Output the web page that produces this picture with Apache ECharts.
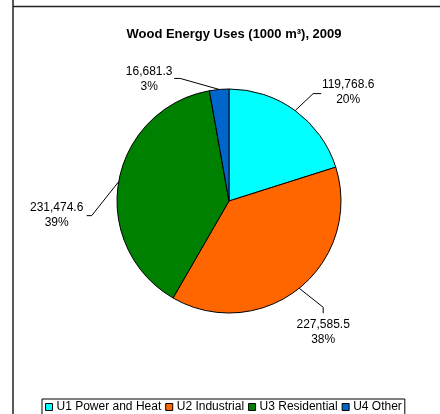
<!DOCTYPE html>
<html>
<head>
<meta charset="utf-8">
<script src="https://cdn.jsdelivr.net/npm/echarts@6/dist/echarts.min.js"></script>
<style>
html,body{margin:0;padding:0;background:#fff;}
#chart{width:440px;height:414px;}
</style>
</head>
<body>
<div id="chart"></div>
<script>
var categories = ['U1 Power and Heat', 'U2 Industrial', 'U3 Residential', 'U4 Other'];
var values = [119768.6, 227585.5, 231474.6, 16681.3];
var colors = ['#00FFFF', '#FF6600', '#008000', '#0066CC'];
var titleText = 'Wood Energy Uses (1000 m\u00B3), 2009';

// Excel-style callout offsets, relative to the point where each leader line leaves the pie
var calloutBend = [[18, -17], [24, 19], [-27, 34], [-39, -11]];
var calloutEnd = [[26, -17], [24, 25], [-32, 34], [-45, -11]];
var calloutText = [[53, -18], [24, 44], [-62, 34], [-70, -10]];

var FONT = '"Liberation Sans", Arial, sans-serif';

function fmt(v) {
  var parts = v.toFixed(1).split('.');
  parts[0] = parts[0].replace(/\B(?=(\d{3})+(?!\d))/g, ',');
  return parts.join('.');
}

var chart = echarts.init(document.getElementById('chart'), null, {renderer: 'canvas'});
chart.setOption({
  backgroundColor: '#fff',
  animation: false,
  title: {
    text: titleText,
    left: 229,
    textAlign: 'center',
    top: 23,
    textStyle: {fontFamily: FONT, fontSize: 13, fontWeight: 'bold', color: '#000'}
  },
  legend: {
    data: categories,
    left: 42,
    top: 399,
    orient: 'horizontal',
    icon: 'rect',
    itemWidth: 7,
    itemHeight: 7,
    itemGap: 4,
    padding: [2, 3, 4, 3],
    borderColor: '#000',
    borderWidth: 1,
    itemStyle: {borderColor: '#000', borderWidth: 1},
    textStyle: {fontFamily: FONT, fontSize: 12, color: '#000', padding: [0, 0, 0, -1]}
  },
  graphic: [
    {type: 'line', shape: {x1: 13, y1: 0, x2: 13, y2: 414}, style: {stroke: '#222', lineWidth: 1.5}, z: 100},
    {type: 'line', shape: {x1: 13, y1: 6.5, x2: 440, y2: 6.5}, style: {stroke: '#222', lineWidth: 1.5}, z: 100}
  ],
  series: [{
    type: 'pie',
    center: [229, 201],
    radius: 112,
    startAngle: 90,
    clockwise: true,
    percentPrecision: 0,
    color: colors,
    itemStyle: {borderColor: '#000', borderWidth: 1},
    label: {
      show: true,
      position: 'outside',
      fontFamily: FONT,
      fontSize: 12,
      color: '#000',
      lineHeight: 15,
      align: 'center',
      formatter: function (p) { return fmt(p.value) + '\n' + Math.round(p.percent) + '%'; }
    },
    labelLine: {
      show: true,
      length: 22,
      length2: 8,
      lineStyle: {color: '#000', width: 1}
    },
    labelLayout: function (params) {
      var i = params.dataIndex;
      var pts = params.labelLinePoints;
      if (!pts) return {};
      var e = pts[0];
      return {
        x: e[0] + calloutText[i][0],
        y: e[1] + calloutText[i][1],
        align: 'center',
        verticalAlign: 'middle',
        labelLinePoints: [
          [e[0], e[1]],
          [e[0] + calloutBend[i][0], e[1] + calloutBend[i][1]],
          [e[0] + calloutEnd[i][0], e[1] + calloutEnd[i][1]]
        ]
      };
    },
    emphasis: {disabled: true},
    data: categories.map(function (c, i) { return {name: c, value: values[i]}; })
  }]
});
</script>
</body>
</html>
